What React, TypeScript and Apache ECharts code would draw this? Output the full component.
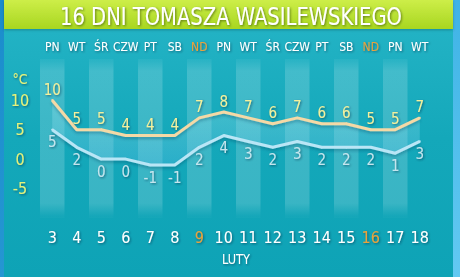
import React, { useEffect, useRef } from 'react';
import * as echarts from 'echarts';

const chartTitle = '16 DNI TOMASZA WASILEWSKIEGO';
const weekdays = ['PN', 'WT', 'ŚR', 'CZW', 'PT', 'SB', 'ND', 'PN', 'WT', 'ŚR', 'CZW', 'PT', 'SB', 'ND', 'PN', 'WT'];
const dates = ['3', '4', '5', '6', '7', '8', '9', '10', '11', '12', '13', '14', '15', '16', '17', '18'];
const tempHigh = [10, 5, 5, 4, 4, 4, 7, 8, 7, 6, 7, 6, 6, 5, 5, 7];
const tempLow = [5, 2, 0, 0, -1, -1, 2, 4, 3, 2, 3, 2, 2, 2, 1, 3];
const yTickLabels = [-5, 0, 5, 10];
const unitLabel = '°C';
const monthLabel = 'LUTY';
const sundayLabel = 'ND';

const FONT = "'Liberation Sans Narrow', 'DejaVu Sans Condensed', 'Roboto', sans-serif";
const shadow = {
  textShadowColor: 'rgba(0,40,60,0.55)',
  textShadowBlur: 2,
  textShadowOffsetX: 1,
  textShadowOffsetY: 1,
};

export default function App() {
  const ref = useRef<HTMLDivElement>(null);

  useEffect(() => {
    document.body.style.margin = '0';
    if (!ref.current) return;
    const chart = echarts.init(ref.current, null, { renderer: 'svg' });
    const sundayIdx = weekdays.map((d, i) => (d === sundayLabel ? i : -1)).filter((i) => i >= 0);
    const diff = tempHigh.map((h, i) => h - tempLow[i]);
    const dayColor = (_v: string, i: number) => (sundayIdx.includes(i) ? '#e9a23a' : '#ffffff');

    const option: any = {
      animation: false,
      backgroundColor: 'transparent',
      graphic: [
        {
          type: 'rect',
          z: -10,
          silent: true,
          shape: { x: 0, y: 0, width: 460, height: 277 },
          style: {
            fill: new echarts.graphic.LinearGradient(0, 0, 1, 1, [
              { offset: 0, color: '#1b8dcc' },
              { offset: 1, color: '#2e9fd8' },
            ]),
          },
        },
        {
          type: 'rect',
          z: -10,
          silent: true,
          shape: { x: 453, y: 0, width: 7, height: 277 },
          style: {
            fill: new echarts.graphic.LinearGradient(0, 0, 0, 1, [
              { offset: 0, color: '#3fb3e6' },
              { offset: 1, color: '#62c9f2' },
            ]),
          },
        },
        {
          type: 'rect',
          z: -9,
          silent: true,
          shape: { x: 4, y: 0, width: 449, height: 277 },
          style: {
            fill: new echarts.graphic.LinearGradient(0, 0, 0, 1, [
              { offset: 0, color: '#26b5c7' },
              { offset: 0.5, color: '#14a8ba' },
              { offset: 1, color: '#0ea3b6' },
            ]),
          },
        },
        {
          type: 'rect',
          z: -8,
          silent: true,
          shape: { x: 4, y: 0, width: 449, height: 29 },
          style: {
            fill: new echarts.graphic.LinearGradient(0, 0, 0, 1, [
              { offset: 0, color: '#cdee48' },
              { offset: 1, color: '#a8d620' },
            ]),
            shadowColor: 'rgba(0,60,60,0.35)',
            shadowBlur: 3,
            shadowOffsetY: 1,
          },
        },
        {
          type: 'text',
          z: 10,
          x: 231,
          y: 16,
          scaleX: 0.87,
          style: {
            text: chartTitle,
            fill: '#ffffff',
            font: `25px ${FONT}`,
            align: 'center',
            verticalAlign: 'middle',
            textShadowColor: 'rgba(40,60,0,0.6)',
            textShadowBlur: 2,
            textShadowOffsetX: 1,
            textShadowOffsetY: 1,
          },
        },
        {
          type: 'text',
          z: 10,
          x: 20,
          y: 79,
          style: {
            text: unitLabel,
            fill: '#e6f27a',
            font: `14px ${FONT}`,
            align: 'center',
            verticalAlign: 'middle',
            ...shadow,
          },
        },
        {
          type: 'text',
          z: 10,
          x: 236,
          y: 259,
          scaleX: 0.9,
          style: {
            text: monthLabel,
            fill: '#ffffff',
            font: `14px ${FONT}`,
            align: 'center',
            verticalAlign: 'middle',
            ...shadow,
          },
        },
      ],
      grid: { left: 40, right: 28, top: 59, bottom: 59 },
      xAxis: [
        {
          type: 'category',
          position: 'top',
          data: weekdays,
          boundaryGap: true,
          axisLine: { show: false },
          axisTick: { show: false },
          axisLabel: {
            interval: 0,
            margin: 6,
            fontFamily: FONT,
            fontSize: 12,
            color: dayColor,
            ...shadow,
          },
        },
        {
          type: 'category',
          position: 'bottom',
          data: dates,
          boundaryGap: true,
          axisLine: { show: false },
          axisTick: { show: false },
          axisLabel: {
            interval: 0,
            margin: 11,
            fontFamily: FONT,
            fontSize: 16,
            color: dayColor,
            ...shadow,
          },
          splitArea: {
            show: true,
            interval: 0,
            areaStyle: {
              color: [
                {
                  type: 'linear',
                  x: 0,
                  y: 55,
                  x2: 0,
                  y2: 216,
                  global: true,
                  colorStops: [
                    { offset: 0, color: 'rgba(255,255,255,0)' },
                    { offset: 0.1, color: 'rgba(255,255,255,0.17)' },
                    { offset: 0.92, color: 'rgba(255,255,255,0.17)' },
                    { offset: 1, color: 'rgba(255,255,255,0.02)' },
                  ],
                },
                'rgba(0,0,0,0)',
              ],
            },
          },
        },
      ],
      yAxis: {
        type: 'value',
        min: -10,
        max: 17,
        interval: 5,
        axisLine: { show: false },
        axisTick: { show: false },
        splitLine: { show: false },
        axisLabel: {
          margin: 20,
          align: 'center',
          fontFamily: FONT,
          fontSize: 16,
          color: '#e6f27a',
          formatter: (v: number) => (yTickLabels.includes(v) ? String(v) : ''),
          ...shadow,
        },
      },
      series: [
        {
          name: 'base',
          type: 'line',
          xAxisIndex: 1,
          data: tempLow,
          stack: 'band',
          stackStrategy: 'all',
          symbol: 'none',
          lineStyle: { opacity: 0 },
          silent: true,
          z: 1,
        },
        {
          name: 'band',
          type: 'line',
          xAxisIndex: 1,
          data: diff,
          stack: 'band',
          stackStrategy: 'all',
          symbol: 'none',
          lineStyle: { opacity: 0 },
          silent: true,
          z: 1,
          areaStyle: {
            color: new echarts.graphic.LinearGradient(0, 0, 0, 1, [
              { offset: 0, color: 'rgba(175,240,240,0.42)' },
              { offset: 1, color: 'rgba(90,190,235,0.45)' },
            ]),
          },
        },
        {
          name: 'low',
          type: 'line',
          xAxisIndex: 1,
          data: tempLow,
          symbol: 'circle',
          symbolSize: 2,
          itemStyle: { color: '#b9e6f6' },
          z: 3,
          lineStyle: {
            color: '#b9e6f6',
            width: 3,
            shadowColor: 'rgba(0,60,90,0.35)',
            shadowBlur: 3,
            shadowOffsetY: 2,
          },
          label: {
            show: true,
            position: 'bottom',
            distance: 4,
            fontFamily: FONT,
            fontSize: 15,
            color: '#c4e5ee',
            ...shadow,
          },
        },
        {
          name: 'high',
          type: 'line',
          xAxisIndex: 1,
          data: tempHigh,
          symbol: 'circle',
          symbolSize: 2,
          itemStyle: { color: '#f4d9a6' },
          z: 4,
          lineStyle: {
            color: '#f4d9a6',
            width: 3,
            shadowColor: 'rgba(0,60,90,0.35)',
            shadowBlur: 3,
            shadowOffsetY: 2,
          },
          label: {
            show: true,
            position: 'top',
            distance: 2,
            fontFamily: FONT,
            fontSize: 15,
            color: '#f4f09c',
            ...shadow,
          },
        },
      ],
    };
    chart.setOption(option);
    return () => chart.dispose();
  }, []);

  return (
    <div
      ref={ref}
      style={{ position: 'fixed', left: 0, top: 0, width: 460, height: 277 }}
    />
  );
}
